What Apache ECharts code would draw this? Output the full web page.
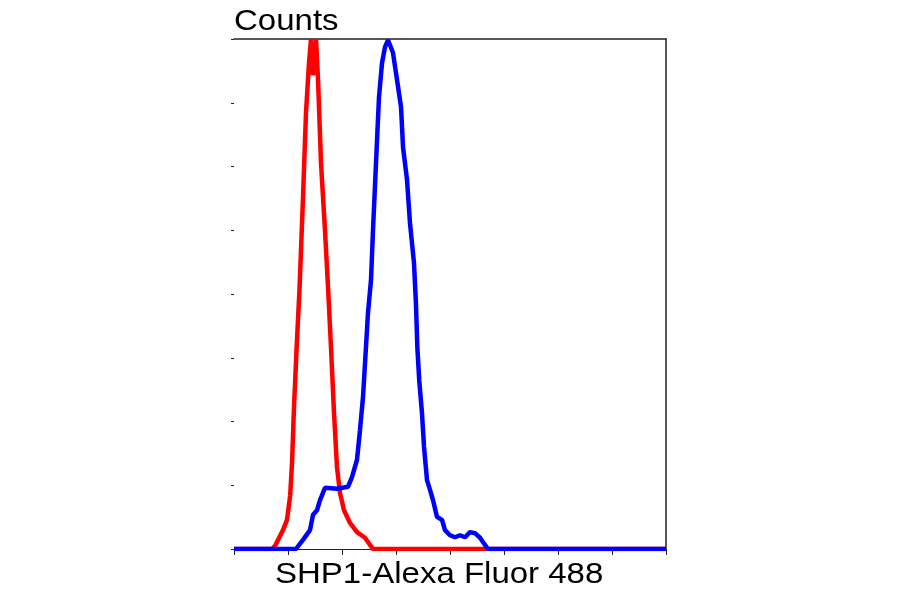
<!DOCTYPE html>
<html>
<head>
<meta charset="utf-8">
<script src="https://cdn.jsdelivr.net/npm/echarts@6/dist/echarts.min.js"></script>
<style>html,body{margin:0;padding:0;background:#fff;}#c{width:900px;height:594px;}</style>
</head>
<body>
<div id="c"></div>
<script>
// Fluorescence intensity (axis units, 8 decades across) vs counts (% of max)
var isotypeControl = [
  [0,0],[0.704,0],[0.759,0.6],[0.907,3.7],[0.981,5.7],[1.04,10.5],[1.075,17.0],[1.11,27.5],
  [1.16,39.6],[1.215,51.4],[1.278,69.0],[1.333,85.5],[1.389,95.3],[1.426,100],[1.463,92.9],
  [1.519,100],[1.556,92.0],[1.611,75.7],[1.685,62.5],[1.741,51.4],[1.796,39.6],[1.852,26.7],
  [1.907,16.1],[1.963,11.0],[2.037,7.6],[2.148,5.1],[2.278,3.3],[2.426,2.2],[2.519,0.8],
  [2.574,0],[8,0]
];
var shp1Stained = [
  [0,0],[1.148,0],[1.278,1.8],[1.407,3.7],[1.463,6.7],[1.537,7.6],[1.593,9.6],[1.685,12.0],
  [1.907,11.8],[2.111,12.2],[2.185,14.1],[2.278,17.5],[2.333,23.3],[2.389,29.8],[2.444,39.6],
  [2.481,46.3],[2.537,52.7],[2.574,62.5],[2.630,75.7],[2.685,88.6],[2.741,95.3],[2.796,98.4],
  [2.852,99.8],[2.944,97.3],[3.019,92.0],[3.093,86.7],[3.130,78.8],[3.204,72.4],[3.259,63.9],
  [3.333,56.1],[3.370,48.0],[3.395,39.6],[3.43,33.1],[3.481,26.7],[3.519,20.0],[3.574,13.5],
  [3.630,11.6],[3.685,9.6],[3.759,6.3],[3.852,5.7],[3.907,3.7],[4.0,2.7],[4.093,2.3],
  [4.185,2.7],[4.278,2.3],[4.370,3.3],[4.463,3.1],[4.556,2.2],[4.648,0.8],[4.704,0],[8,0]
];
var yTitle = 'Counts';
var xTitle = 'SHP1-Alexa Fluor 488';
var xRange = [0, 8];
var yRange = [0, 100];

var chart = echarts.init(document.getElementById('c'), null, {renderer: 'canvas'});
var axisColor = '#222';
chart.setOption({
  animation: false,
  backgroundColor: '#fff',
  grid: {left: 234, right: 234, top: 39, bottom: 45},
  xAxis: [{
    type: 'value', min: xRange[0], max: xRange[1], interval: 1,
    axisLine: {show: true, onZero: false, lineStyle: {color: axisColor, width: 1}},
    axisTick: {show: true, length: 6, lineStyle: {color: axisColor, width: 1}},
    axisLabel: {show: false}, splitLine: {show: false}
  }, {
    type: 'value', position: 'top', min: xRange[0], max: xRange[1],
    axisLine: {show: true, onZero: false, lineStyle: {color: axisColor, width: 1.5}},
    axisTick: {show: false}, axisLabel: {show: false}, splitLine: {show: false}
  }],
  yAxis: [{
    type: 'value', min: yRange[0], max: yRange[1], interval: 12.5,
    axisLine: {show: false},
    axisTick: {show: true, length: 3, lineStyle: {color: axisColor, width: 1}},
    axisLabel: {show: false}, splitLine: {show: false}
  }, {
    type: 'value', position: 'right', min: yRange[0], max: yRange[1],
    axisLine: {show: true, onZero: false, lineStyle: {color: axisColor, width: 1.5}},
    axisTick: {show: false}, axisLabel: {show: false}, splitLine: {show: false}
  }],
  graphic: [{
    type: 'text', x: 234, y: 37, scaleX: 1.1,
    style: {text: yTitle, font: '30px "Liberation Sans", Arial, sans-serif', fill: '#000', textVerticalAlign: 'bottom'}
  }, {
    type: 'text', x: 275, y: 590, scaleX: 1.1,
    style: {text: xTitle, font: '30px "Liberation Sans", Arial, sans-serif', fill: '#000', textVerticalAlign: 'bottom'}
  }],
  series: [{
    type: 'line', data: isotypeControl, showSymbol: false, smooth: false, clip: true,
    lineStyle: {color: '#ff0000', width: 4.5}, itemStyle: {color: '#ff0000'}
  }, {
    type: 'line', data: shp1Stained, showSymbol: false, smooth: false, clip: true,
    lineStyle: {color: '#0000ff', width: 4.5}, itemStyle: {color: '#0000ff'}
  }]
});
</script>
</body>
</html>
